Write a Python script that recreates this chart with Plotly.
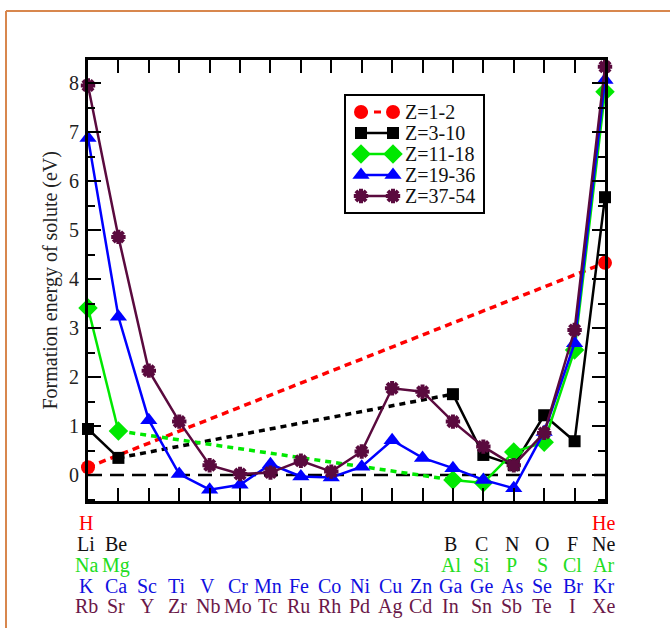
import plotly.graph_objects as go

# ---------------- data ----------------
cols = list(range(1, 19))

row_H = ["H"] + [""] * 16 + ["He"]
row_Li = ["Li", "Be"] + [""] * 10 + ["B", "C", "N", "O", "F", "Ne"]
row_Na = ["Na", "Mg"] + [""] * 10 + ["Al", "Si", "P", "S", "Cl", "Ar"]
row_K = ["K", "Ca", "Sc", "Ti", "V", "Cr", "Mn", "Fe", "Co", "Ni", "Cu", "Zn",
         "Ga", "Ge", "As", "Se", "Br", "Kr"]
row_Rb = ["Rb", "Sr", "Y", "Zr", "Nb", "Mo", "Tc", "Ru", "Rh", "Pd", "Ag", "Cd",
          "In", "Sn", "Sb", "Te", "I", "Xe"]

E_z1_2 = [0.16] + [None] * 16 + [4.33]
E_z3_10 = [0.94, 0.35] + [None] * 10 + [1.65, 0.41, 0.20, 1.22, 0.69, 5.67]
E_z11_18 = [3.41, 0.90] + [None] * 10 + [-0.10, -0.16, 0.47, 0.67, 2.55, 7.82]
E_z19_36 = [6.88, 3.23, 1.12, 0.02, -0.30, -0.20, 0.22, -0.03, -0.05, 0.17,
            0.71, 0.35, 0.14, -0.10, -0.27, 0.88, 2.69, 8.06]
E_z37_54 = [7.95, 4.86, 2.13, 1.09, 0.20, 0.02, 0.05, 0.29, 0.07, 0.48,
            1.77, 1.70, 1.09, 0.58, 0.20, 0.86, 2.96, 8.33]

names = ["Z=1-2", "Z=3-10", "Z=11-18", "Z=19-36", "Z=37-54"]

# ---------------- style ----------------
RED = "#ff0000"
BLACK = "#000000"
GREEN = "#00e800"
BLUE = "#0000ff"
PURPLE = "#5a0a3e"
SERIF = "Liberation Serif"

W, H = 670, 628
L, R, T, B = 88, 65, 60, 127
PW, PH = W - L - R, H - T - B


def px2px(x):
    return (x - L) / PW


def py2py(y):
    return (H - B - y) / PH


fig = go.Figure()


def gap_segments(vals):
    """Pairs of non-adjacent neighbouring points (to be joined by dashes)."""
    idx = [i for i, v in enumerate(vals) if v is not None]
    segs = []
    for a, b in zip(idx[:-1], idx[1:]):
        if b - a > 1:
            segs.append(([cols[a], cols[b]], [vals[a], vals[b]]))
    return segs


marker_red = dict(symbol="circle", size=14, color=RED)
styles = [
    (E_z3_10, names[1], BLACK, dict(symbol="square", size=12, color=BLACK)),
    (E_z11_18, names[2], GREEN, dict(symbol="diamond", size=15, color=GREEN)),
    (E_z19_36, names[3], BLUE, dict(symbol="triangle-up", size=15, color=BLUE)),
    (E_z37_54, names[4], PURPLE, dict(symbol="asterisk-open", size=12,
                                      color=PURPLE, line=dict(color=PURPLE, width=4))),
]

# Z=1-2 : dashed line with circles
fig.add_trace(go.Scatter(
    x=[c for c, v in zip(cols, E_z1_2) if v is not None],
    y=[v for v in E_z1_2 if v is not None],
    mode="lines+markers", name=names[0],
    line=dict(color=RED, width=3.5, dash="7px,5px"),
    marker=marker_red, cliponaxis=False,
))

for vals, nm, col, mk in styles:
    for sx, sy in gap_segments(vals):
        fig.add_trace(go.Scatter(
            x=sx, y=sy, mode="lines", name=nm,
            line=dict(color=col, width=3.5, dash="6px,5px"), hoverinfo="skip",
        ))
    fig.add_trace(go.Scatter(
        x=cols, y=vals, mode="lines+markers", name=nm,
        line=dict(color=col, width=2.5), marker=mk, connectgaps=False,
        cliponaxis=False,
    ))

# ---------------- legend (drawn as a box on an overlay pixel axis) ----------------
LEG_X0, LEG_X1, LEG_Y0, LEG_Y1 = 345, 484, 95, 213
leg_rows = [112, 133, 154, 175, 196]
leg_items = [(names[0], RED, marker_red, "dash")] + \
            [(nm, col, mk, "solid") for _, nm, col, mk in styles]
for (nm, col, mk, dsh), yr in zip(leg_items, leg_rows):
    fig.add_trace(go.Scatter(
        x=[361, 393], y=[yr, yr], xaxis="x2", yaxis="y2",
        mode="lines+markers", name=nm, hoverinfo="skip",
        line=dict(color=col, width=3 if dsh == "dash" else 2.5,
                  dash="7px,6px" if dsh == "dash" else "solid"),
        marker=mk, cliponaxis=False,
    ))
    fig.add_annotation(
        x=403, y=yr, xref="x2", yref="y2", text=nm, showarrow=False,
        xanchor="left", yanchor="middle",
        font=dict(family=SERIF, size=20, color="#111111"),
    )
fig.add_shape(type="rect", xref="x2", yref="y2",
              x0=LEG_X0, x1=LEG_X1, y0=LEG_Y0, y1=LEG_Y1,
              line=dict(color=BLACK, width=2), fillcolor="rgba(0,0,0,0)")

# ---------------- element labels under the axis ----------------
rows = [(row_H, RED), (row_Li, "#111111"), (row_Na, "#22dd22"),
        (row_K, "#1010e0"), (row_Rb, "#6a1848")]
row_y = [523, 544, 565, 586, 606]
for (labels, col), yp in zip(rows, row_y):
    for c, t in zip(cols, labels):
        if t:
            fig.add_annotation(
                x=c, xref="x", y=py2py(yp), yref="paper", text=t,
                showarrow=False, xanchor="center", yanchor="middle", xshift=-2,
                font=dict(family=SERIF, size=20, color=col),
            )

# y-axis title
fig.add_annotation(
    x=px2px(50), xref="paper", y=0.5, yref="paper",
    text="Formation energy of solute (eV)", textangle=-90, showarrow=False,
    xanchor="center", yanchor="middle",
    font=dict(family=SERIF, size=20, color="#222222"),
)

# zero reference line
fig.add_shape(type="line", xref="paper", yref="y", x0=0, x1=1, y0=0, y1=0,
              line=dict(color=BLACK, width=2.5, dash="14px,8px"), layer="below")

# page frame (orange)
fig.add_shape(type="line", xref="paper", yref="paper",
              x0=px2px(6), x1=px2px(700), y0=py2py(11), y1=py2py(11),
              line=dict(color="#d8874e", width=2))
fig.add_shape(type="line", xref="paper", yref="paper",
              x0=px2px(6), x1=px2px(6), y0=py2py(11), y1=py2py(700),
              line=dict(color="#d8874e", width=2))

fig.update_layout(
    width=W, height=H,
    margin=dict(l=L, r=R, t=T, b=B),
    paper_bgcolor="white", plot_bgcolor="white",
    font=dict(family=SERIF, size=19, color="#222222"),
    showlegend=False,
    xaxis=dict(
        range=[1, 18], tickvals=cols, showticklabels=False,
        ticks="inside", ticklen=13, tickwidth=2, tickcolor=BLACK,
        showline=True, linecolor=BLACK, linewidth=3, mirror="allticks",
        showgrid=False, zeroline=False,
    ),
    yaxis=dict(
        range=[-0.53, 8.47], dtick=1, tick0=0,
        ticks="inside", ticklen=13, tickwidth=2, tickcolor=BLACK,
        minor=dict(dtick=0.5, ticks="inside", ticklen=7, tickwidth=2, tickcolor=BLACK),
        showline=True, linecolor=BLACK, linewidth=3, mirror="allticks",
        showgrid=False, zeroline=False,
        tickfont=dict(family=SERIF, size=20, color="#222222"),
        ticklabelstandoff=2,
    ),
    xaxis2=dict(overlaying="x", range=[L, W - R], visible=False, fixedrange=True),
    yaxis2=dict(overlaying="y", range=[H - B, T], visible=False, fixedrange=True),
)

fig.write_html("out.html")
